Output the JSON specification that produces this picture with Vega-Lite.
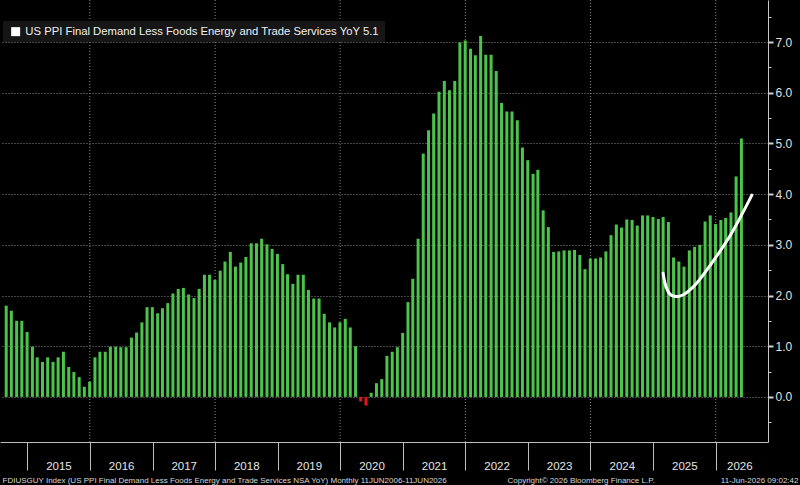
{
  "$schema": "https://vega.github.io/schema/vega-lite/v6.json",
  "width": 768,
  "height": 442,
  "autosize": {"type": "none"},
  "padding": {"left": 0, "top": 0, "right": 32, "bottom": 43},
  "background": "#000000",
  "config": {"view": {"stroke": null}, "font": "Liberation Sans"},
  "datasets": {
    "ppi": [
      {"date": "2014-08-31", "value": 1.80}, {"date": "2014-09-30", "value": 1.70}, {"date": "2014-10-31", "value": 1.50}, {"date": "2014-11-30", "value": 1.50}, {"date": "2014-12-31", "value": 1.28},
      {"date": "2015-01-31", "value": 0.99}, {"date": "2015-02-28", "value": 0.78}, {"date": "2015-03-31", "value": 0.69}, {"date": "2015-04-30", "value": 0.78}, {"date": "2015-05-31", "value": 0.69}, {"date": "2015-06-30", "value": 0.78},
      {"date": "2015-07-31", "value": 0.89}, {"date": "2015-08-31", "value": 0.59}, {"date": "2015-09-30", "value": 0.49}, {"date": "2015-10-31", "value": 0.39}, {"date": "2015-11-30", "value": 0.20}, {"date": "2015-12-31", "value": 0.30},
      {"date": "2016-01-31", "value": 0.78}, {"date": "2016-02-29", "value": 0.89}, {"date": "2016-03-31", "value": 0.89}, {"date": "2016-04-30", "value": 0.99}, {"date": "2016-05-31", "value": 0.99}, {"date": "2016-06-30", "value": 0.98},
      {"date": "2016-07-31", "value": 0.98}, {"date": "2016-08-31", "value": 1.17}, {"date": "2016-09-30", "value": 1.27}, {"date": "2016-10-31", "value": 1.47}, {"date": "2016-11-30", "value": 1.77}, {"date": "2016-12-31", "value": 1.77},
      {"date": "2017-01-31", "value": 1.65}, {"date": "2017-02-28", "value": 1.75}, {"date": "2017-03-31", "value": 1.85}, {"date": "2017-04-30", "value": 2.04}, {"date": "2017-05-31", "value": 2.13}, {"date": "2017-06-30", "value": 2.15},
      {"date": "2017-07-31", "value": 2.02}, {"date": "2017-08-31", "value": 1.95}, {"date": "2017-09-30", "value": 2.13}, {"date": "2017-10-31", "value": 2.41}, {"date": "2017-11-30", "value": 2.41}, {"date": "2017-12-31", "value": 2.31},
      {"date": "2018-01-31", "value": 2.49}, {"date": "2018-02-28", "value": 2.67}, {"date": "2018-03-31", "value": 2.86}, {"date": "2018-04-30", "value": 2.57}, {"date": "2018-05-31", "value": 2.65}, {"date": "2018-06-30", "value": 2.76},
      {"date": "2018-07-31", "value": 3.03}, {"date": "2018-08-31", "value": 3.03}, {"date": "2018-09-30", "value": 3.12}, {"date": "2018-10-31", "value": 3.01}, {"date": "2018-11-30", "value": 2.92}, {"date": "2018-12-31", "value": 2.82},
      {"date": "2019-01-31", "value": 2.62}, {"date": "2019-02-28", "value": 2.42}, {"date": "2019-03-31", "value": 2.23}, {"date": "2019-04-30", "value": 2.41}, {"date": "2019-05-31", "value": 2.41}, {"date": "2019-06-30", "value": 2.11},
      {"date": "2019-07-31", "value": 1.94}, {"date": "2019-08-31", "value": 1.94}, {"date": "2019-09-30", "value": 1.64}, {"date": "2019-10-31", "value": 1.47}, {"date": "2019-11-30", "value": 1.37}, {"date": "2019-12-31", "value": 1.47},
      {"date": "2020-01-31", "value": 1.54}, {"date": "2020-02-29", "value": 1.37}, {"date": "2020-03-31", "value": 1.00}, {"date": "2020-04-30", "value": -0.09}, {"date": "2020-05-31", "value": -0.17}, {"date": "2020-06-30", "value": 0.08},
      {"date": "2020-07-31", "value": 0.27}, {"date": "2020-08-31", "value": 0.35}, {"date": "2020-09-30", "value": 0.81}, {"date": "2020-10-31", "value": 0.89}, {"date": "2020-11-30", "value": 0.98}, {"date": "2020-12-31", "value": 1.26},
      {"date": "2021-01-31", "value": 1.87}, {"date": "2021-02-28", "value": 2.33}, {"date": "2021-03-31", "value": 3.12}, {"date": "2021-04-30", "value": 4.80}, {"date": "2021-05-31", "value": 5.26}, {"date": "2021-06-30", "value": 5.59},
      {"date": "2021-07-31", "value": 6.02}, {"date": "2021-08-31", "value": 6.23}, {"date": "2021-09-30", "value": 6.05}, {"date": "2021-10-31", "value": 6.23}, {"date": "2021-11-30", "value": 6.99}, {"date": "2021-12-31", "value": 7.03},
      {"date": "2022-01-31", "value": 6.87}, {"date": "2022-02-28", "value": 6.74}, {"date": "2022-03-31", "value": 7.12}, {"date": "2022-04-30", "value": 6.75}, {"date": "2022-05-31", "value": 6.75}, {"date": "2022-06-30", "value": 6.43},
      {"date": "2022-07-31", "value": 5.80}, {"date": "2022-08-31", "value": 5.63}, {"date": "2022-09-30", "value": 5.63}, {"date": "2022-10-31", "value": 5.46}, {"date": "2022-11-30", "value": 4.92}, {"date": "2022-12-31", "value": 4.67},
      {"date": "2023-01-31", "value": 4.40}, {"date": "2023-02-28", "value": 4.48}, {"date": "2023-03-31", "value": 3.68}, {"date": "2023-04-30", "value": 3.35}, {"date": "2023-05-31", "value": 2.86}, {"date": "2023-06-30", "value": 2.87},
      {"date": "2023-07-31", "value": 2.89}, {"date": "2023-08-31", "value": 2.89}, {"date": "2023-09-30", "value": 2.90}, {"date": "2023-10-31", "value": 2.80}, {"date": "2023-11-30", "value": 2.52}, {"date": "2023-12-31", "value": 2.73},
      {"date": "2024-01-31", "value": 2.73}, {"date": "2024-02-29", "value": 2.75}, {"date": "2024-03-31", "value": 2.87}, {"date": "2024-04-30", "value": 3.19}, {"date": "2024-05-31", "value": 3.40}, {"date": "2024-06-30", "value": 3.34},
      {"date": "2024-07-31", "value": 3.50}, {"date": "2024-08-31", "value": 3.49}, {"date": "2024-09-30", "value": 3.38}, {"date": "2024-10-31", "value": 3.58}, {"date": "2024-11-30", "value": 3.58}, {"date": "2024-12-31", "value": 3.55},
      {"date": "2025-01-31", "value": 3.51}, {"date": "2025-02-28", "value": 3.55}, {"date": "2025-03-31", "value": 3.45}, {"date": "2025-04-30", "value": 2.75}, {"date": "2025-05-31", "value": 2.67}, {"date": "2025-06-30", "value": 2.57},
      {"date": "2025-07-31", "value": 2.89}, {"date": "2025-08-31", "value": 2.96}, {"date": "2025-09-30", "value": 3.00}, {"date": "2025-10-31", "value": 3.46}, {"date": "2025-11-30", "value": 3.58}, {"date": "2025-12-31", "value": 3.41},
      {"date": "2026-01-31", "value": 3.49}, {"date": "2026-02-28", "value": 3.53}, {"date": "2026-03-31", "value": 3.64}, {"date": "2026-04-30", "value": 4.35}, {"date": "2026-05-31", "value": 5.10}
    ],
    "curve": [
      {"d": "2025-02-28", "v": 2.44}, {"d": "2025-03-09", "v": 2.27}, {"d": "2025-03-29", "v": 2.08}, {"d": "2025-04-27", "v": 1.99},
      {"d": "2025-05-25", "v": 1.98}, {"d": "2025-06-23", "v": 2.01}, {"d": "2025-08-20", "v": 2.16}, {"d": "2025-12-13", "v": 2.66},
      {"d": "2026-04-07", "v": 3.25}, {"d": "2026-07-31", "v": 3.98}
    ],
    "vgrid": [
      {"d": "2016-01-01"}, {"d": "2018-01-01"}, {"d": "2020-01-01"}, {"d": "2022-01-01"}, {"d": "2024-01-01"}, {"d": "2026-01-01"}
    ]
  },
  "layer": [
    {
      "data": {"name": "vgrid"},
      "mark": {"type": "rule", "color": "#8a8a8a", "strokeDash": [1, 2], "strokeWidth": 1},
      "encoding": {
        "x": {
          "field": "d", "type": "temporal",
          "scale": {"domain": [{"year": 2014, "month": 8, "date": 24, "utc": true}, {"year": 2026, "month": 10, "date": 4, "utc": true}]},
          "axis": {
            "orient": "bottom",
            "labels": false, "ticks": false, "domain": false, "grid": false,
            "title": "FDIUSGUY Index (US PPI Final Demand Less Foods Energy and Trade Services NSA YoY) Monthly 11JUN2006-11JUN2026",
            "titleX": 2, "titleY": 40, "titleAlign": "left", "titleBaseline": "alphabetic",
            "titleFontSize": 8, "titleFontWeight": "normal", "titleColor": "#d8d8d8", "titleFont": "Liberation Sans"
          }
        }
      }
    },
    {
      "data": {"name": "ppi"},
      "mark": {"type": "bar", "size": 3},
      "encoding": {
        "x": {
          "field": "date", "type": "temporal",
          "scale": {"domain": [{"year": 2014, "month": 8, "date": 24, "utc": true}, {"year": 2026, "month": 10, "date": 4, "utc": true}]},
          "axis": {
            "orient": "bottom",
            "values": [
              {"year": 2015, "month": 1, "date": 1, "utc": true}, {"year": 2016, "month": 1, "date": 1, "utc": true},
              {"year": 2017, "month": 1, "date": 1, "utc": true}, {"year": 2018, "month": 1, "date": 1, "utc": true},
              {"year": 2019, "month": 1, "date": 1, "utc": true}, {"year": 2020, "month": 1, "date": 1, "utc": true},
              {"year": 2021, "month": 1, "date": 1, "utc": true}, {"year": 2022, "month": 1, "date": 1, "utc": true},
              {"year": 2023, "month": 1, "date": 1, "utc": true}, {"year": 2024, "month": 1, "date": 1, "utc": true},
              {"year": 2025, "month": 1, "date": 1, "utc": true}, {"year": 2026, "month": 1, "date": 1, "utc": true}
            ],
            "labels": false, "ticks": true, "tickSize": 28, "tickColor": "#bdbdbd", "tickWidth": 1,
            "domain": true, "domainColor": "#bdbdbd", "domainWidth": 1, "grid": false,
            "title": "Copyright© 2026 Bloomberg Finance L.P.",
            "titleX": 507, "titleY": 40, "titleAlign": "left", "titleBaseline": "alphabetic",
            "titleFontSize": 8, "titleFontWeight": "normal", "titleColor": "#d8d8d8", "titleFont": "Liberation Sans"
          }
        },
        "y": {
          "field": "value", "type": "quantitative",
          "scale": {"domain": [-0.89, 7.83], "nice": false, "zero": false},
          "axis": {
            "orient": "right", "values": [0, 1, 2, 3, 4, 5, 6, 7], "format": ".1f",
            "grid": true, "gridColor": "#8a8a8a", "gridDash": [1, 2], "gridWidth": 1,
            "tickSize": 5, "tickWidth": 2, "tickColor": "#d0d0d0",
            "domain": true, "domainColor": "#c8c8c8", "domainWidth": 1,
            "labelColor": "#e0e0e0", "labelFontSize": 12, "labelPadding": 2, "labelFont": "Liberation Sans",
            "title": null
          }
        },
        "color": {
          "condition": [
            {"test": "datum.value < 0", "value": "#e5151d"},
            {"test": "datum.value >= 0", "value": "#4cc44c"}
          ],
          "datum": "US PPI Final Demand Less Foods Energy and Trade Services YoY 5.1",
          "type": "nominal",
          "scale": {"range": ["#ffffff"]},
          "legend": {
            "orient": "none", "legendX": 3, "legendY": 21, "title": null,
            "fillColor": "#161616", "padding": 5, "symbolType": "square", "symbolSize": 81,
            "symbolStrokeWidth": 0, "symbolOffset": 2, "labelColor": "#f0f0f0", "labelFontSize": 11.3, "labelLimit": 600,
            "labelOffset": 4, "labelFont": "Liberation Sans"
          }
        }
      }
    },
    {
      "data": {"name": "curve"},
      "mark": {"type": "line", "color": "#ffffff", "strokeWidth": 3, "interpolate": "monotone", "strokeCap": "round"},
      "encoding": {
        "x": {
          "field": "d", "type": "temporal",
          "scale": {"domain": [{"year": 2014, "month": 8, "date": 24, "utc": true}, {"year": 2026, "month": 10, "date": 4, "utc": true}]},
          "axis": {
            "orient": "bottom",
            "values": [
              {"year": 2015, "month": 7, "date": 2, "utc": true}, {"year": 2016, "month": 7, "date": 2, "utc": true},
              {"year": 2017, "month": 7, "date": 2, "utc": true}, {"year": 2018, "month": 7, "date": 2, "utc": true},
              {"year": 2019, "month": 7, "date": 2, "utc": true}, {"year": 2020, "month": 7, "date": 2, "utc": true},
              {"year": 2021, "month": 7, "date": 2, "utc": true}, {"year": 2022, "month": 7, "date": 2, "utc": true},
              {"year": 2023, "month": 7, "date": 2, "utc": true}, {"year": 2024, "month": 7, "date": 2, "utc": true},
              {"year": 2025, "month": 7, "date": 2, "utc": true}, {"year": 2026, "month": 5, "date": 19, "utc": true}
            ],
            "format": "%Y", "ticks": false, "domain": false, "grid": false,
            "labelColor": "#e6e6e6", "labelFontSize": 11.5, "labelPadding": 18, "labelFlush": false, "labelOverlap": false,
            "labelFont": "Liberation Sans",
            "title": "11-Jun-2026 09:02:42",
            "titleX": 798, "titleY": 40, "titleAlign": "right", "titleBaseline": "alphabetic",
            "titleFontSize": 8, "titleFontWeight": "normal", "titleColor": "#d8d8d8", "titleFont": "Liberation Sans"
          }
        },
        "y": {
          "field": "v", "type": "quantitative",
          "scale": {"domain": [-0.89, 7.83], "nice": false, "zero": false},
          "axis": {
            "orient": "right", "values": [-0.5, 0.5, 1.5, 2.5, 3.5, 4.5, 5.5, 6.5, 7.5],
            "labels": false, "grid": false, "domain": false,
            "tickSize": 3, "tickColor": "#d0d0d0", "tickWidth": 1, "title": null
          }
        }
      }
    }
  ],
  "resolve": {"axis": {"x": "independent", "y": "independent"}}
}
